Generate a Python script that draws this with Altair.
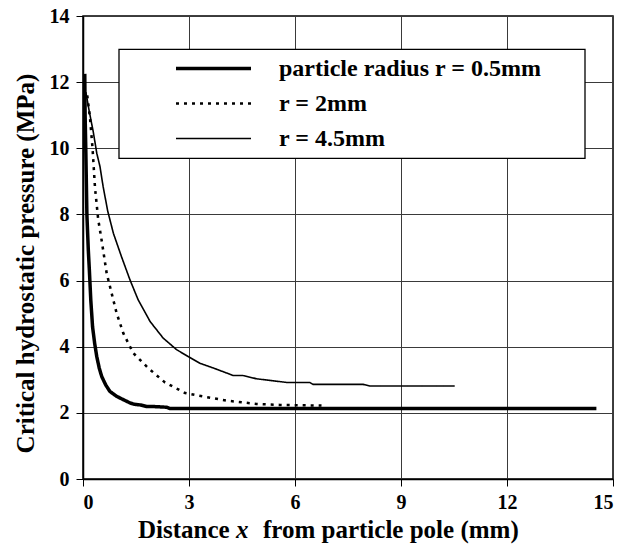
import altair as alt
import pandas as pd

series_names = ["particle radius r = 0.5mm", "r = 2mm", "r = 4.5mm"]

x_r05 = [0.05, 0.06, 0.08, 0.11, 0.15, 0.18, 0.22, 0.27, 0.33, 0.39, 0.46, 0.53, 0.64,
         0.76, 0.95, 1.14, 1.33, 1.45, 1.62, 1.80, 2.00, 2.37, 2.46, 6.0, 10.0, 14.53]
y_r05 = [12.25, 11.0, 9.9, 8.0, 6.93, 6.32, 5.42, 4.61, 4.10, 3.70, 3.35, 3.10, 2.85,
         2.65, 2.50, 2.40, 2.30, 2.26, 2.24, 2.19, 2.19, 2.17, 2.13, 2.13, 2.13, 2.13]

x_r2 = [0.12, 0.20, 0.27, 0.34, 0.43, 0.53, 0.67, 0.81, 0.95, 1.14, 1.42, 1.85, 2.32,
        2.89, 3.22, 4.07, 4.91, 5.57, 6.75]
y_r2 = [11.6, 10.9, 10.0, 8.8, 7.85, 7.2, 6.22, 5.62, 5.02, 4.41, 3.81, 3.35, 2.92,
        2.60, 2.53, 2.37, 2.27, 2.24, 2.22]

x_r45 = [0.08, 0.18, 0.29, 0.39, 0.48, 0.57, 0.70, 0.86, 1.09, 1.33, 1.56, 1.90, 2.27,
         2.65, 2.98, 3.31, 3.78, 4.25, 4.53, 4.91, 5.38, 5.76, 6.42, 6.51, 7.93, 8.12, 10.52]
y_r45 = [11.7, 11.1, 10.5, 9.85, 9.45, 8.84, 8.1, 7.43, 6.72, 6.02, 5.42, 4.76, 4.26,
         3.91, 3.70, 3.50, 3.32, 3.13, 3.13, 3.03, 2.97, 2.92, 2.92, 2.86, 2.86, 2.81, 2.81]

x_ticks = [0, 3, 6, 9, 12, 15]
y_ticks = [0, 2, 4, 6, 8, 10, 12, 14]

y_title = "Critical hydrostatic pressure (MPa)"
x_title_parts = ["Distance", "x", "from particle pole (mm)"]

rows = []
for name, xs, ys in zip(series_names, [x_r05, x_r2, x_r45], [y_r05, y_r2, y_r45]):
    for i, (xv, yv) in enumerate(zip(xs, ys)):
        rows.append({"series": name, "x": xv, "y": yv, "i": i})
df = pd.DataFrame(rows)

FONT = "Liberation Serif"

legend = alt.Legend(
    title=None, orient="none", legendX=36, legendY=33,
    padding=7.5,
    symbolType="M-5,0H5", symbolSize=225, symbolStrokeColor="black",
    symbolOffset=75, labelOffset=53.5,
    labelFont=FONT, labelFontWeight="bold", labelFontSize=24, labelColor="black",
    labelLimit=800, rowPadding=11,
)

# white framed box behind the legend
legend_box = alt.Chart(pd.DataFrame({"k": [0]})).mark_rect(
    fill="white", stroke="black", strokeWidth=1.3
).encode(x=alt.value(36), x2=alt.value(502), y=alt.value(33.3), y2=alt.value(142.3))

lines = alt.Chart(df).mark_line(color="black", clip=True).encode(
    x=alt.X("x:Q", scale=alt.Scale(domain=[0, 15], nice=False),
            axis=alt.Axis(values=x_ticks, title=None, labelPadding=6)),
    y=alt.Y("y:Q", scale=alt.Scale(domain=[0, 14], nice=False),
            axis=alt.Axis(values=y_ticks, title=y_title, labelPadding=7,
                          titleX=-50, titleY=247, titleAngle=270,
                          titleAlign="center", titleBaseline="alphabetic",
                          titleFont=FONT, titleFontWeight="bold", titleFontSize=25,
                          titleColor="black")),
    strokeDash=alt.StrokeDash("series:N",
                              scale=alt.Scale(domain=series_names, range=[[1, 0], [3, 5], [1, 0]]),
                              legend=legend),
    strokeWidth=alt.StrokeWidth("series:N",
                                scale=alt.Scale(domain=series_names, range=[3.5, 1.6, 1.3]),
                                legend=legend),
    order="i:Q",
)

def title_piece(text, xpos, italic=False):
    props = dict(font=FONT, fontWeight="bold", fontSize=25, align="left",
                 baseline="alphabetic", color="black")
    if italic:
        props["fontStyle"] = "italic"
    return alt.Chart(pd.DataFrame({"t": [text]})).mark_text(**props).encode(
        text="t:N", x=alt.value(xpos), y=alt.value(522))

t1 = title_piece(x_title_parts[0], 55)
t2 = title_piece(x_title_parts[1], 153, italic=True)
t3 = title_piece(x_title_parts[2], 180)

chart = alt.layer(legend_box, lines, t1, t2, t3).properties(
    width=530, height=463,
    padding={"left": 83, "top": 16, "right": 12, "bottom": 66},
    autosize=alt.AutoSizeParams(type="none"),
).configure_view(
    stroke="black", strokeWidth=1.5
).configure_axis(
    labelFont=FONT, labelFontWeight="bold", labelFontSize=20, labelColor="black",
    domainColor="black", domainWidth=1.5, tickColor="black", tickSize=7, tickWidth=1,
    gridColor="#3a3a3a", gridWidth=1, gridOpacity=1,
)

chart.save("out.html", embed_options={"renderer": "svg", "actions": False})
